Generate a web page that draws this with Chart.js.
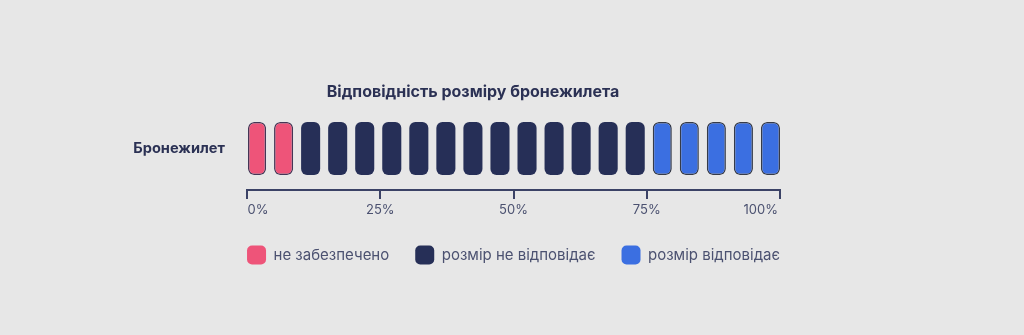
<!DOCTYPE html>
<html>
<head>
<meta charset="utf-8">
<script src="https://cdn.jsdelivr.net/npm/chart.js@4"></script>
<style>
  html, body { margin: 0; padding: 0; background: #e7e7e7; }
  #wrap { width: 1024px; height: 335px; position: relative; }
</style>
</head>
<body>
<div id="wrap"><canvas id="c" width="1024" height="335"></canvas></div>
<script>
// ---- data ----
const title = 'Відповідність розміру бронежилета';
const categories = ['Бронежилет'];
const groupLabels = ['не забезпечено', 'розмір не відповідає', 'розмір відповідає'];
const groupShares = [10, 65, 25];          // percent
const groupColors = ['#ee5479', '#262f57', '#3b6fe1'];
const groupBorders = ['#443656', '#262f57', '#363b48'];
const tickValues = [0, 25, 50, 75, 100];
const tickLabels = ['0%', '25%', '50%', '75%', '100%'];
const unitsTotal = 20;                     // each block = 5%

// ---- build blocks ----
const unit = 100 / unitsTotal;
const gapPct = 1.5;
const pitch = (100 + gapPct) / unitsTotal;
const datasets = [];
let idx = 0;
groupShares.forEach((share, g) => {
  const n = Math.round(share / unit);
  for (let k = 0; k < n; k++) {
    const start = idx * pitch;
    datasets.push({
      label: groupLabels[g],
      group: g,
      data: [[start, start + pitch - gapPct]],
      backgroundColor: groupColors[g],
      borderColor: groupBorders[g],
      borderWidth: g === 1 ? 0 : 1.5,
      borderRadius: 6,
      borderSkipped: false,
      barThickness: 53,
      grouped: false,
      inflateAmount: 0
    });
    idx++;
  }
});

const navy = '#2b3154';
const tickColor = '#4b5170';

const labelPlugin = {
  id: 'customText',
  afterDraw(chart) {
    const ctx = chart.ctx;
    const x = chart.scales.x;
    ctx.save();
    ctx.font = '13px Inter';
    ctx.fillStyle = tickColor;
    ctx.textBaseline = 'middle';
    tickValues.forEach((v, i) => {
      const px = x.getPixelForValue(v);
      const last = i === tickValues.length - 1;
      ctx.textAlign = i === 0 ? 'left' : (last ? 'right' : 'center');
      ctx.fillText(tickLabels[i], i === 0 ? px + 0.5 : (last ? px - 2 : px), 210);
    });
    ctx.font = 'bold 16px Inter';
    ctx.fillStyle = navy;
    ctx.textAlign = 'center';
    ctx.fillText(title, 473, 92);
    ctx.restore();
  }
};

new Chart(document.getElementById('c'), {
  type: 'bar',
  data: { labels: categories, datasets },
  plugins: [labelPlugin],
  options: {
    indexAxis: 'y',
    responsive: false,
    animation: false,
    layout: { padding: { left: 3, right: 0, top: 107, bottom: 60.5 } },
    scales: {
      x: {
        min: 0, max: 100,
        afterBuildTicks: s => { s.ticks = tickValues.map(v => ({ value: v })); },
        afterFit: s => { s.height = 29.5; },
        grid: { display: true, drawOnChartArea: false, drawTicks: true, tickLength: 9, color: '#3b4266', lineWidth: 2 },
        border: { display: true, color: '#3b4266', width: 2 },
        ticks: { color: 'rgba(0,0,0,0)', font: { size: 1 } }
      },
      y: {
        afterFit: s => { s.width = 244; },
        grid: { display: false, drawTicks: false },
        border: { display: false },
        ticks: { padding: 22, color: navy, font: { family: 'Inter', size: 14.6, weight: 'bold' } }
      },
      y2: {
        type: 'category',
        labels: categories,
        position: 'right',
        display: true,
        afterFit: s => { s.width = 244; },
        grid: { display: false, drawTicks: false },
        border: { display: false },
        ticks: { display: false }
      }
    },
    plugins: {
      tooltip: { enabled: false },
      title: { display: false },
      legend: {
        position: 'bottom',
        labels: {
          boxWidth: 19, boxHeight: 19, padding: 26,
          useBorderRadius: true, borderRadius: 5,
          color: tickColor,
          font: { family: 'Inter', size: 15 },
          generateLabels: chart => groupLabels.map((t, g) => ({
            text: t, fillStyle: groupColors[g], strokeStyle: groupColors[g], lineWidth: 0,
            fontColor: tickColor, hidden: false,
            datasetIndex: chart.data.datasets.findIndex(d => d.group === g),
            borderRadius: 5
          }))
        }
      }
    }
  }
});
</script>
</body>
</html>
